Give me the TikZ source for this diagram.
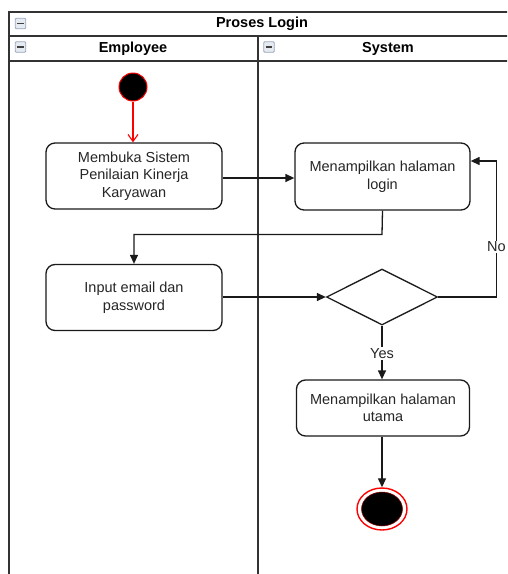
\documentclass[tikz,border=0pt]{standalone}
\usepackage{fontspec}
\setmainfont{Liberation Sans}
\usetikzlibrary{shapes.geometric,arrows.meta,calc}
\definecolor{lineclr}{HTML}{1A1A1A}
\definecolor{ured}{HTML}{FF0000}
\definecolor{iconedge}{HTML}{9AA6BC}
\definecolor{iconfill}{HTML}{E6EAF1}
\tikzset{
  poolline/.style={draw=black!80, line width=1.8pt},
  action/.style={draw=lineclr, line width=1.3pt, rounded corners=9pt, fill=white,
    align=center, inner sep=2pt, font=\fontsize{14.5}{17.5}\selectfont, text=black!85},
  decision/.style={draw=lineclr, line width=1.3pt, diamond, fill=white, inner sep=0pt,
    minimum width=111pt, minimum height=56pt},
  flow/.style={draw=lineclr, line width=1.3pt, -{Triangle[length=9pt,width=8pt]}},
  startflow/.style={draw=ured, line width=1.1pt, -{Straight Barb[length=7pt,width=10pt]}},
  guard/.style={fill=white, inner sep=1pt, font=\fontsize{14.5}{17.5}\selectfont, text=black!85},
  header/.style={font=\bfseries\fontsize{14.5}{17.5}\selectfont},
  collapse/.style={draw=iconedge, fill=iconfill, line width=0.8pt, rounded corners=1pt,
    minimum width=10.5pt, minimum height=10.5pt, inner sep=0pt}
}
\begin{document}
\begin{tikzpicture}[x=1pt,y=-1pt]
  \useasboundingbox (0,0) rectangle (507,574);
  \begin{scope}
    \clip (0,0) rectangle (507,574);
    % pool frame and lane separators
    \draw[poolline] (517,12) -- (9,12) -- (9,590);
    \draw[poolline] (9,36) -- (517,36);
    \draw[poolline] (9,61) -- (517,61);
    \draw[poolline] (258,36) -- (258,590);
  \end{scope}

  % headers
  \node[header] (pool) at (262,24) {Proses Login};
  \node[header] (laneA) at (133,48.5) {Employee};
  \node[header] (laneB) at (388,48.5) {System};

  % collapse icons
  \foreach \nm/\cx/\cy in {ic1/20.5/23.5, ic2/20.5/47, ic3/269/47}{
    \node[collapse] (\nm) at (\cx,\cy) {};
    \draw[black!75, line width=1.3pt] ([xshift=2.5pt]\nm.west) -- ([xshift=-2.5pt]\nm.east);
  }

  % activity nodes
  \node[circle, fill=black, draw=ured, line width=1pt, minimum size=28pt, inner sep=0pt] (start) at (133,87) {};
  \node[action, minimum width=176pt, minimum height=66pt] (b1) at (134,176)
    {Membuka Sistem\\Penilaian Kinerja\\Karyawan};
  \node[action, minimum width=175pt, minimum height=67pt] (b2) at (382.5,176.5)
    {Menampilkan halaman\\login};
  \node[action, minimum width=176pt, minimum height=66pt] (b3) at (134,297.5)
    {Input email dan\\password};
  \node[decision] (d) at (382,297) {};
  \node[action, minimum width=173pt, minimum height=56pt] (b4) at (383,408)
    {Menampilkan halaman\\utama};
  \node[ellipse, fill=white, draw=ured, line width=1.4pt, minimum width=50pt, minimum height=42pt, inner sep=0pt] (stop) at (382,509) {};
  \node[ellipse, fill=black, draw=ured!60!black, line width=0.5pt, minimum width=41pt, minimum height=34pt, inner sep=0pt] (stopin) at (382,509) {};

  % connectors
  \draw[startflow] (start) -- (b1.north -| start);
  \draw[flow] (b1.east |- 0,178) -- (b2.west |- 0,178);
  \draw[flow] (b2.south) -- (382,234.5) coordinate (bend) -- (134,234.5) -- (b3.north);
  \draw[flow] (b3.east |- d.west) -- (d.west);
  \draw[flow] (d.east) -- (496.5,297) coordinate (nocorner) -- (496.5,161) -- (b2.east |- 0,161);
  \node[guard] (nolbl) at (496.5,247) {No};
  \draw[flow] (d.south) -- (b4.north -| d.south);
  \node[guard] (yeslbl) at (382,353.5) {Yes};
  \draw[flow] (b4.south -| stop.north) -- (stop.north);
\end{tikzpicture}
\end{document}
